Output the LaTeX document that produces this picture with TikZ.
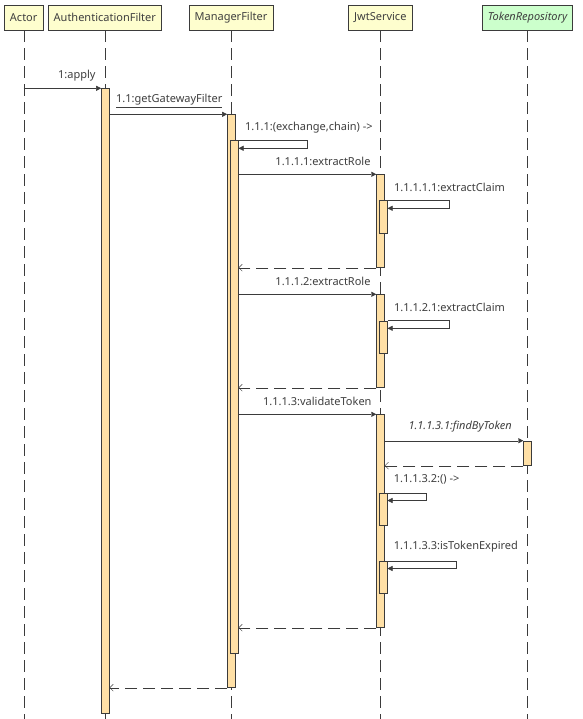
\documentclass[tikz,border=0pt]{standalone}
\usepackage{fontspec}
\setmainfont{Noto Sans}
\usetikzlibrary{arrows.meta}

\definecolor{linec}{HTML}{3B3B3B}
\definecolor{textc}{HTML}{3F3F3F}
\definecolor{headc}{HTML}{FEFECE}
\definecolor{repoc}{HTML}{CCFFCC}
\definecolor{barc}{HTML}{FFE0A6}

\newcommand{\actbar}[4]{\node[bar,minimum height={(#4-#3)*1pt}] (#1) at (#2,#3) {};}

\begin{document}
\begin{tikzpicture}[x=1pt,y=-1pt,font=\fontsize{11}{13}\selectfont,text=textc]
\tikzstyle{head}=[draw=linec,fill=headc,minimum height=25pt,inner xsep=5.5pt,inner ysep=0pt]
\tikzstyle{life}=[draw=linec,dash pattern=on 12pt off 6pt]
\tikzstyle{bar}=[draw=linec,fill=barc,minimum width=8pt,inner sep=0pt,anchor=north]
\tikzstyle{call}=[draw=linec,-{Triangle[length=5pt,width=5pt]}]
\tikzstyle{ret}=[draw=linec,dash pattern=on 12pt off 6pt,-{Straight Barb[length=3.5pt,width=7pt]}]
\tikzstyle{lbl}=[inner sep=0pt,anchor=west]
\useasboundingbox[fill=white] (0,0) rectangle (582,719);

% participants
\node[head] (actor) at (23.7,17.7) {Actor};
\node[head] (auth) at (104.8,17.7) {AuthenticationFilter};
\node[head] (mgr) at (231,17.7) {ManagerFilter};
\node[head] (jwt) at (380.3,17.7) {JwtService};
\node[head,fill=repoc] (repo) at (527.5,17.7) {\itshape TokenRepository};
\coordinate (bottom) at (0,719);
\foreach \n in {actor,auth,mgr,jwt,repo}
  \draw[life] (\n.south) -- (\n.south |- bottom);

% activations
\actbar{auth1}{105.3}{88.3}{713.3}
\actbar{mgr1}{231.3}{114.3}{687.3}
\actbar{mgr2}{234.3}{140.5}{653.3}
\actbar{jwt1}{380.5}{174.3}{267.3}
\actbar{jwt1a}{383.3}{200.5}{233.3}
\actbar{jwt2}{380.5}{294.3}{387.3}
\actbar{jwt2a}{383.3}{320.5}{353.3}
\actbar{jwt3}{380.5}{414.3}{627.3}
\actbar{jwt3a}{383.3}{492.7}{525.3}
\actbar{jwt3b}{383.3}{560.7}{593.3}
\actbar{repo1}{527.5}{440.7}{465.3}

% messages
\draw[call] (actor.south |- auth1.north) -- (auth1.north west);
\node[lbl] (m1) at (58,76) {1:apply};
\draw[call] (auth1.east |- mgr1.north) -- (mgr1.north west);
\node[lbl] (m11) at (116,101) {\underline{1.1:getGatewayFilter}};
\draw[call] (mgr2.north east) -- ++(69,0) -- ++(0,7.8) -- ([yshift=-7.8pt]mgr2.north east);
\node[lbl] (m111) at (245,128) {1.1.1:(exchange,chain) ->};

\draw[call] (mgr2.east |- jwt1.north) -- (jwt1.north west);
\node[lbl,anchor=east] (m1111) at (370.7,161.7) {1.1.1.1:extractRole};
\draw[call] (jwt1a.north east) -- ++(61.4,0) -- ++(0,7.8) -- ([yshift=-7.8pt]jwt1a.north east);
\node[lbl] (m11111) at (394,187.3) {1.1.1.1.1:extractClaim};
\draw[ret] (jwt1.south west) -- (mgr2.east |- jwt1.south);

\draw[call] (mgr2.east |- jwt2.north) -- (jwt2.north west);
\node[lbl,anchor=east] (m1112) at (370.7,281.7) {1.1.1.2:extractRole};
\draw[call] (jwt2a.north east) -- ++(61.4,0) -- ++(0,7.8) -- ([yshift=-7.8pt]jwt2a.north east);
\node[lbl] (m11121) at (394,307.3) {1.1.1.2.1:extractClaim};
\draw[ret] (jwt2.south west) -- (mgr2.east |- jwt2.south);

\draw[call] (mgr2.east |- jwt3.north) -- (jwt3.north west);
\node[lbl,anchor=east] (m1113) at (371.7,401.7) {1.1.1.3:validateToken};
\draw[call] (jwt3.east |- repo1.north) -- (repo1.north west);
\node[lbl] (m11131) at (408.3,427) {\itshape 1.1.1.3.1:findByToken};
\draw[ret] (repo1.south west) -- (jwt3.east |- repo1.south);
\draw[call] (jwt3a.north east) -- ++(38.4,0) -- ++(0,7.8) -- ([yshift=-7.8pt]jwt3a.north east);
\node[lbl] (m11132) at (393.7,479.3) {1.1.1.3.2:() ->};
\draw[call] (jwt3b.north east) -- ++(68.4,0) -- ++(0,7.8) -- ([yshift=-7.8pt]jwt3b.north east);
\node[lbl] (m11133) at (393.7,546.7) {1.1.1.3.3:isTokenExpired};
\draw[ret] (jwt3.south west) -- (mgr2.east |- jwt3.south);

\draw[ret] (mgr1.south west) -- (auth1.east |- mgr1.south);
\end{tikzpicture}
\end{document}
